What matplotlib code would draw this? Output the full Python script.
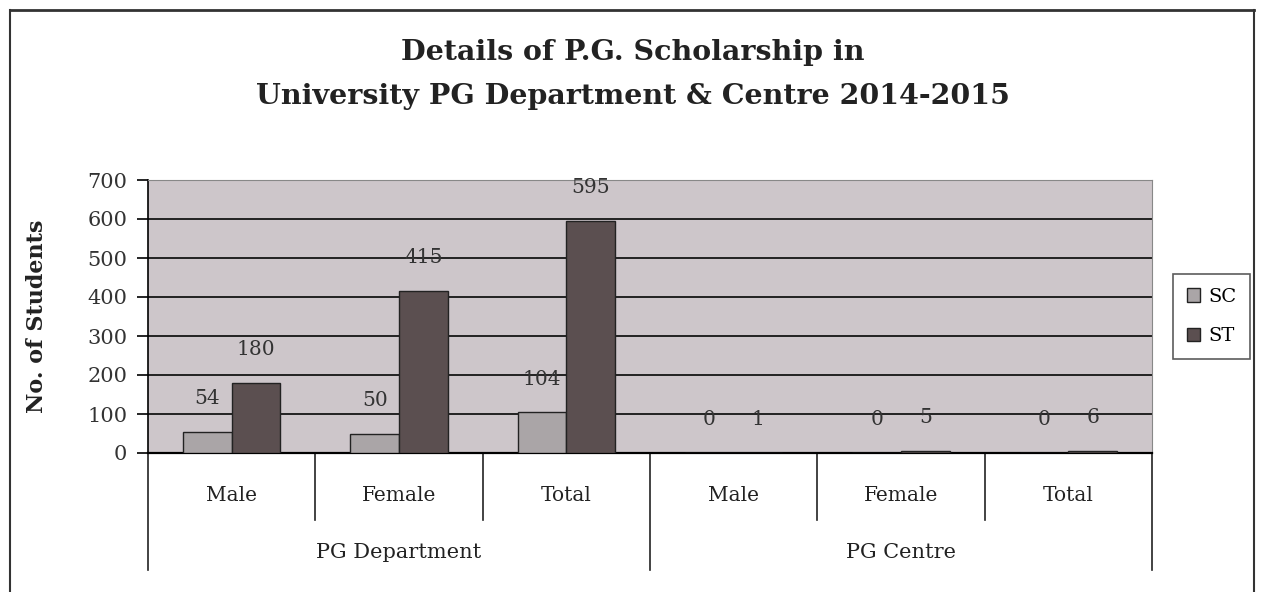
import matplotlib
matplotlib.use("Agg")
import matplotlib.pyplot as plt
import numpy as np

categories = ["Male", "Female", "Total", "Male", "Female", "Total"]
groups = ["PG Department", "PG Centre"]
sc_values = [54, 50, 104, 0, 0, 0]
st_values = [180, 415, 595, 1, 5, 6]

serif = "DejaVu Serif"
fig = plt.figure(figsize=(12.65, 5.92), dpi=100)
ax = fig.add_axes([148 / 1265, 1 - 453 / 592, (1152 - 148) / 1265, 273 / 592])

x = np.arange(len(categories))
w = 0.29
ax.set_facecolor("#cdc6ca")
sc_bars = ax.bar(x - w / 2, sc_values, w, color="#aaa5a7", edgecolor="#222222", linewidth=1.0, label="SC", zorder=3)
st_bars = ax.bar(x + w / 2, st_values, w, color="#5b4f50", edgecolor="#222222", linewidth=1.0, label="ST", zorder=3)

for bars, vals in [(sc_bars, sc_values), (st_bars, st_values)]:
    for b, v in zip(bars, vals):
        ax.annotate(str(v), (b.get_x() + b.get_width() / 2, v), xytext=(0, 24),
                    textcoords="offset points", ha="center", va="center",
                    fontsize=14.5, family=serif, color="#333333", zorder=4)

ax.set_xlim(-0.5, len(categories) - 0.5)
ax.set_ylim(0, 700)
ax.set_yticks(range(0, 701, 100))
ax.tick_params(axis="y", direction="out", length=8, width=1.2, labelsize=15, pad=7, labelcolor="#333333")
for lbl in ax.get_yticklabels():
    lbl.set_family(serif)
ax.set_xticks([])
ax.grid(axis="y", color="#222222", linewidth=1.4, zorder=1)
for s in ["top", "right"]:
    ax.spines[s].set_color("#888888")
ax.spines["left"].set_linewidth(1.2)
ax.spines["bottom"].set_linewidth(1.6)

ax.set_ylabel("No. of Students", family=serif, fontweight="bold", fontsize=16, color="#222222")
ax.yaxis.set_label_coords(-0.1, 0.5)

# category and group axis below
tr = ax.get_xaxis_transform()
for i, c in enumerate(categories):
    ax.text(i, -0.155, c, transform=tr, ha="center", va="center", fontsize=14.5, family=serif, color="#222222")
for i in range(1, len(categories)):
    if i != 3:
        ax.plot([i - 0.5, i - 0.5], [0, -0.245], transform=tr, color="#222222", lw=1.2, clip_on=False)
for xp in [-0.5, 2.5, 5.5]:
    ax.plot([xp, xp], [0, -0.43], transform=tr, color="#222222", lw=1.2, clip_on=False)
for gi, g in enumerate(groups):
    ax.text(gi * 3 + 1, -0.365, g, transform=tr, ha="center", va="center", fontsize=15, family=serif, color="#222222")

leg = ax.legend(loc="center left", bbox_to_anchor=(1.021, 0.5), prop={"family": serif, "size": 14},
                frameon=True, fancybox=False, edgecolor="#333333", handlelength=0.7, handleheight=0.7,
                handletextpad=0.4, borderpad=0.7, labelspacing=1.1, borderaxespad=0)
leg.get_frame().set_linewidth(1.2)

fig.text(0.5, 1 - 52 / 592, "Details of P.G. Scholarship in", ha="center", va="center",
         fontsize=20.5, fontweight="bold", family=serif, color="#222222")
fig.text(0.5, 1 - 97 / 592, "University PG Department & Centre 2014-2015", ha="center", va="center",
         fontsize=20.5, fontweight="bold", family=serif, color="#222222")

# outer chart border
fig.add_artist(plt.Line2D([10 / 1265, 1254 / 1265], [1 - 10 / 592, 1 - 10 / 592], color="#333333", lw=2))
fig.add_artist(plt.Line2D([10 / 1265, 10 / 1265], [0, 1 - 10 / 592], color="#333333", lw=1.5))
fig.add_artist(plt.Line2D([1254 / 1265, 1254 / 1265], [0, 1 - 10 / 592], color="#333333", lw=1.5))

fig.savefig("out.png", dpi=100)
